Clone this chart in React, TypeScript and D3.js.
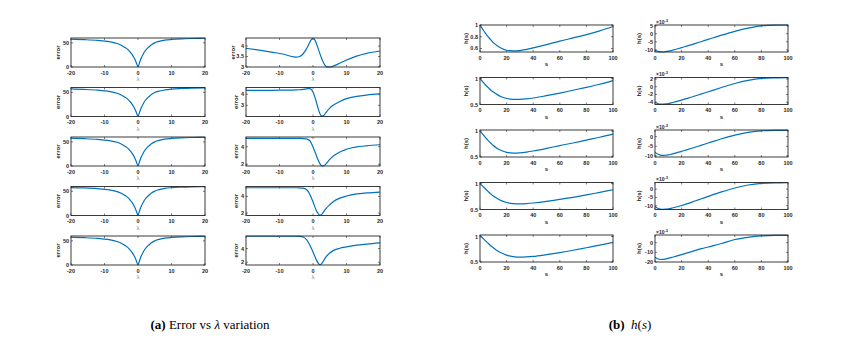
import { useEffect, useRef } from 'react';
import * as d3 from 'd3';

// lambda grid used by every plot of panel (a)
const lambda = [-20, -16, -12, -9, -6, -5, -4, -3, -2, -1.5, -1, -0.5, 0, 0.5, 1, 1.5, 2, 2.5, 3, 3.5, 4, 5, 6, 8, 10, 13, 16, 20];

// panel (a), left column: error vs lambda
const errL1 = [57.5, 56.5, 55, 53, 48, 45, 41, 36, 28, 23, 17, 9, 0.5, 10, 19, 26, 32, 36.5, 40, 43, 46, 50, 52.5, 55.5, 57, 58.3, 59, 59.5];
const errL2 = [57, 56, 54.5, 52.5, 47.5, 44.5, 40.5, 35.5, 27.5, 22.5, 16.5, 8.5, 0.5, 9.5, 18.5, 25.5, 31.5, 36, 39.5, 42.5, 45.5, 49.5, 52, 55, 56.8, 58, 58.8, 59.3];
const errL3 = [57.5, 56.5, 55, 53, 48.5, 45.5, 41.5, 36.5, 28.5, 23.5, 17, 9, 0.5, 10, 19, 26, 32, 36.5, 40, 43, 46, 50, 52.5, 55.5, 57, 58.3, 59, 59.5];
const errL4 = [57.8, 57, 55.5, 53.5, 49, 46, 42, 37, 29, 24, 17.5, 9.5, 0.5, 10.5, 19.5, 26.5, 32.5, 37, 40.5, 43.5, 46.5, 50.5, 53, 56, 57.5, 58.6, 59.2, 59.6];
const errL5 = [57.5, 56.5, 55, 53, 48, 45, 41, 36, 28, 23, 17, 9, 0.5, 10, 19, 26, 32, 36.5, 40, 43, 46, 50, 52.5, 55.5, 57, 58.3, 59, 59.5];

// panel (a), right column: error vs lambda
const errR1 = [3.89, 3.8, 3.7, 3.62, 3.49, 3.47, 3.5, 3.62, 3.85, 4.0, 4.17, 4.3, 4.35, 4.3, 4.12, 3.9, 3.66, 3.44, 3.25, 3.1, 3.02, 3.0, 3.04, 3.18, 3.33, 3.52, 3.65, 3.76];
const errR2 = [4.35, 4.35, 4.35, 4.36, 4.37, 4.38, 4.4, 4.43, 4.47, 4.5, 4.5, 4.42, 4.2, 3.8, 3.3, 2.75, 2.3, 2.05, 2.05, 2.2, 2.4, 2.75, 3.0, 3.35, 3.6, 3.8, 3.92, 4.02];
const errR3 = [4.95, 4.95, 4.95, 4.95, 4.95, 4.95, 4.94, 4.92, 4.88, 4.82, 4.7, 4.4, 3.95, 3.5, 3.0, 2.5, 2.1, 1.86, 1.8, 1.9, 2.1, 2.55, 2.9, 3.4, 3.7, 3.97, 4.1, 4.22];
const errR4 = [5.05, 5.05, 5.05, 5.05, 5.05, 5.05, 5.04, 5.0, 4.85, 4.65, 4.3, 3.85, 3.35, 2.8, 2.3, 1.95, 1.75, 1.8, 2.05, 2.35, 2.6, 3.0, 3.35, 3.8, 4.05, 4.3, 4.42, 4.52];
const errR5 = [5.8, 5.8, 5.8, 5.8, 5.8, 5.8, 5.78, 5.7, 5.35, 5.0, 4.55, 4.05, 3.5, 2.9, 2.35, 1.9, 1.65, 1.75, 2.1, 2.5, 2.85, 3.35, 3.7, 4.05, 4.25, 4.5, 4.66, 4.84];

// s grid used by every plot of panel (b)
const sVals = [0, 2, 4, 6, 8, 10, 13, 16, 20, 25, 30, 35, 40, 50, 60, 70, 80, 90, 100];

// panel (b), left column: h(s)
const hL1 = [1.0, 0.93, 0.86, 0.8, 0.75, 0.7, 0.645, 0.605, 0.57, 0.56, 0.565, 0.585, 0.61, 0.665, 0.725, 0.78, 0.835, 0.9, 0.975];
const hL2 = [1.0, 0.94, 0.88, 0.83, 0.78, 0.74, 0.69, 0.65, 0.615, 0.6, 0.6, 0.61, 0.625, 0.67, 0.72, 0.775, 0.83, 0.89, 0.96];
const hL3 = [1.0, 0.94, 0.88, 0.82, 0.77, 0.72, 0.665, 0.625, 0.59, 0.575, 0.58, 0.595, 0.615, 0.665, 0.72, 0.77, 0.825, 0.88, 0.94];
const hL4 = [1.0, 0.95, 0.9, 0.85, 0.8, 0.76, 0.71, 0.67, 0.635, 0.615, 0.61, 0.615, 0.625, 0.655, 0.695, 0.735, 0.78, 0.83, 0.88];
const hL5 = [1.02, 0.97, 0.92, 0.87, 0.82, 0.78, 0.72, 0.68, 0.635, 0.605, 0.595, 0.6, 0.61, 0.645, 0.685, 0.73, 0.78, 0.83, 0.885];

// panel (b), right column: h(s), values x 10^-3
const hR1 = [-10, -10.9, -11.2, -11.3, -11.1, -10.8, -10.2, -9.6, -8.6, -7.4, -6.1, -4.8, -3.5, -0.9, 1.5, 3.5, 4.9, 5.3, 5.4];
const hR2 = [-4.0, -4.35, -4.5, -4.5, -4.45, -4.35, -4.1, -3.85, -3.45, -2.95, -2.4, -1.85, -1.3, -0.2, 0.85, 1.65, 2.15, 2.3, 2.35];
const hR3 = [-8.0, -9.0, -9.5, -9.7, -9.6, -9.4, -8.9, -8.4, -7.6, -6.6, -5.5, -4.4, -3.3, -1.1, 0.8, 2.2, 3.0, 3.2, 3.25];
const hR4 = [-10.5, -11.5, -12.0, -12.2, -12.1, -11.9, -11.4, -10.8, -9.9, -8.6, -7.2, -5.8, -4.4, -1.7, 0.7, 2.5, 3.5, 3.8, 3.85];
const hR5 = [-15, -16.7, -17.4, -17.3, -16.8, -16.2, -15.1, -13.9, -12.3, -10.3, -8.2, -6.2, -4.4, -0.8, 3.3, 5.6, 7.0, 7.6, 7.7];

const aLeftSeries = [errL1, errL2, errL3, errL4, errL5];
const aRightSeries = [errR1, errR2, errR3, errR4, errR5];
const bLeftSeries = [hL1, hL2, hL3, hL4, hL5];
const bRightSeries = [hR1, hR2, hR3, hR4, hR5];

const aLeftY = [[0, 60], [0, 60], [0, 60], [0, 60], [0, 60]];
const aLeftTicks = [[0, 50], [0, 50], [0, 50], [0, 50], [0, 50]];
const aRightY = [[3, 4.38], [2, 4.6], [1.8, 5.1], [1.7, 5.2], [1.6, 5.84]];
const aRightTicks = [[3, 3.5, 4], [3, 4], [2, 4], [2, 4], [2, 4]];
const bLeftY = [[0.54, 1.0], [0.5, 1.02], [0.5, 1.02], [0.5, 1.02], [0.5, 1.03]];
const bLeftTicks = [[0.6, 0.8, 1], [0.5, 1], [0.5, 1], [0.5, 1], [0.5, 1]];
const bRightY = [[-11.3, 5.4], [-4.6, 2.4], [-10.5, 3.4], [-12.3, 4], [-20, 8]];
const bRightTicks = [[-10, -5, 0, 5], [-4, -2, 0, 2], [-10, -5, 0], [-10, -5, 0], [-20, -10, 0]];

const lambdaTicks = [-20, -10, 0, 10, 20];
const sTicks = [0, 20, 40, 60, 80, 100];

const BLUE = '#0072bd';
const AXIS = '#262626';

type PlotSpec = {
  x0: number; y0: number; w: number; h: number;
  xs: number[]; ys: number[];
  xDomain: [number, number]; xTicks: number[];
  yDomain: number[]; yTicks: number[];
  xLabel: string; yLabel: string; yLabelOffset: number;
  xLabelColor: string; exponent: boolean;
};

function drawPlot(svg: any, p: PlotSpec) {
  const x = d3.scaleLinear().domain(p.xDomain).range([p.x0, p.x0 + p.w]);
  const y = d3.scaleLinear().domain(p.yDomain as [number, number]).range([p.y0 + p.h, p.y0]);
  const g = svg.append('g');
  const tl = 2;

  // ticks (inward, on all four sides)
  p.xTicks.forEach(t => {
    g.append('line').attr('x1', x(t)).attr('x2', x(t)).attr('y1', p.y0 + p.h).attr('y2', p.y0 + p.h - tl)
      .attr('stroke', AXIS).attr('stroke-width', 0.6);
    g.append('line').attr('x1', x(t)).attr('x2', x(t)).attr('y1', p.y0).attr('y2', p.y0 + tl)
      .attr('stroke', AXIS).attr('stroke-width', 0.6);
    g.append('text').attr('x', x(t)).attr('y', p.y0 + p.h + 7.5)
      .attr('text-anchor', 'middle').attr('font-size', 5.5).attr('font-weight', 'bold')
      .attr('font-family', 'Liberation Sans, Arial, sans-serif').attr('fill', AXIS).text(t);
  });
  p.yTicks.forEach(t => {
    g.append('line').attr('x1', p.x0).attr('x2', p.x0 + tl).attr('y1', y(t)).attr('y2', y(t))
      .attr('stroke', AXIS).attr('stroke-width', 0.6);
    g.append('line').attr('x1', p.x0 + p.w).attr('x2', p.x0 + p.w - tl).attr('y1', y(t)).attr('y2', y(t))
      .attr('stroke', AXIS).attr('stroke-width', 0.6);
    g.append('text').attr('x', p.x0 - 2).attr('y', y(t) + 2)
      .attr('text-anchor', 'end').attr('font-size', 5.5).attr('font-weight', 'bold')
      .attr('font-family', 'Liberation Sans, Arial, sans-serif').attr('fill', AXIS).text(t);
  });

  // data line
  const line = d3.line<number>()
    .x((_, i) => x(p.xs[i]))
    .y(d => y(d))
    .curve(d3.curveMonotoneX);
  g.append('path').datum(p.ys).attr('d', line).attr('fill', 'none')
    .attr('stroke', BLUE).attr('stroke-width', 1.2);

  // box
  g.append('rect').attr('x', p.x0).attr('y', p.y0).attr('width', p.w).attr('height', p.h)
    .attr('fill', 'none').attr('stroke', AXIS).attr('stroke-width', 0.9);

  // labels
  g.append('text').attr('x', (p.x0 + p.x0 + p.w) / 2).attr('y', p.y0 + p.h + 14)
    .attr('text-anchor', 'middle').attr('font-size', 6).attr('font-weight', p.xLabelColor === AXIS ? 'bold' : 'normal')
    .attr('font-family', 'Liberation Sans, Arial, sans-serif').attr('fill', p.xLabelColor).text(p.xLabel);
  const cy = p.y0 + p.h / 2;
  g.append('text').attr('transform', `translate(${p.x0 - p.yLabelOffset}, ${cy}) rotate(-90)`)
    .attr('text-anchor', 'middle').attr('font-size', 6).attr('font-weight', 'bold')
    .attr('font-family', 'Liberation Sans, Arial, sans-serif').attr('fill', AXIS).text(p.yLabel);

  if (p.exponent) {
    const e = g.append('text').attr('x', p.x0 + 1).attr('y', p.y0 - 1.5)
      .attr('font-size', 5).attr('font-weight', 'bold')
      .attr('font-family', 'Liberation Sans, Arial, sans-serif').attr('fill', AXIS);
    e.append('tspan').text('\u00d710');
    e.append('tspan').attr('dy', -2).attr('font-size', 4).text('-3');
  }
}

const App = () => {
  const svgRef = useRef<SVGSVGElement>(null);

  useEffect(() => {
    const svg = d3.select(svgRef.current);
    svg.selectAll('*').remove();

    // panel (a)
    for (let i = 0; i < 5; i++) {
      const top = 38 + 49.5 * i;
      drawPlot(svg, {
        x0: 71, y0: top, w: 134, h: 29, xs: lambda, ys: aLeftSeries[i],
        xDomain: [-20, 20], xTicks: lambdaTicks, yDomain: aLeftY[i], yTicks: aLeftTicks[i],
        xLabel: '\u03bb', yLabel: 'error', yLabelOffset: 11, xLabelColor: '#8a8a8a', exponent: false,
      });
      drawPlot(svg, {
        x0: 246, y0: top, w: 134, h: 29, xs: lambda, ys: aRightSeries[i],
        xDomain: [-20, 20], xTicks: lambdaTicks, yDomain: aRightY[i], yTicks: aRightTicks[i],
        xLabel: '\u03bb', yLabel: 'error', yLabelOffset: i === 0 ? 11 : 8, xLabelColor: '#8a8a8a', exponent: false,
      });
    }

    // panel (b)
    for (let i = 0; i < 5; i++) {
      const top = 25 + 52.5 * i;
      drawPlot(svg, {
        x0: 480, y0: top, w: 133, h: 27, xs: sVals, ys: bLeftSeries[i],
        xDomain: [0, 100], xTicks: sTicks, yDomain: bLeftY[i], yTicks: bLeftTicks[i],
        xLabel: 's', yLabel: 'h(s)', yLabelOffset: 12, xLabelColor: AXIS, exponent: false,
      });
      drawPlot(svg, {
        x0: 655, y0: top, w: 133, h: 27, xs: sVals, ys: bRightSeries[i],
        xDomain: [0, 100], xTicks: sTicks, yDomain: bRightY[i], yTicks: bRightTicks[i],
        xLabel: 's', yLabel: 'h(s)', yLabelOffset: 14, xLabelColor: AXIS, exponent: true,
      });
    }

    // captions
    const capA = svg.append('text').attr('x', 210).attr('y', 329).attr('text-anchor', 'middle')
      .attr('font-size', 13).attr('font-family', 'Liberation Serif, Times New Roman, serif').attr('fill', '#000');
    capA.append('tspan').attr('font-weight', 'bold').text('(a)');
    capA.append('tspan').text(' Error vs ');
    capA.append('tspan').attr('font-style', 'italic').text('\u03bb');
    capA.append('tspan').text(' variation');

    const capB = svg.append('text').attr('x', 630).attr('y', 329).attr('text-anchor', 'middle')
      .attr('font-size', 13).attr('font-family', 'Liberation Serif, Times New Roman, serif').attr('fill', '#000');
    capB.append('tspan').attr('font-weight', 'bold').text('(b)');
    capB.append('tspan').text('\u2002');
    capB.append('tspan').attr('font-style', 'italic').text('h');
    capB.append('tspan').text('(');
    capB.append('tspan').attr('font-style', 'italic').text('s');
    capB.append('tspan').text(')');
  }, []);

  return (
    <svg ref={svgRef} width="850" height="341" viewBox="0 0 850 341"
      style={{ position: 'absolute', left: 0, top: 0, background: '#fff' }}></svg>
  );
};

export default App;
